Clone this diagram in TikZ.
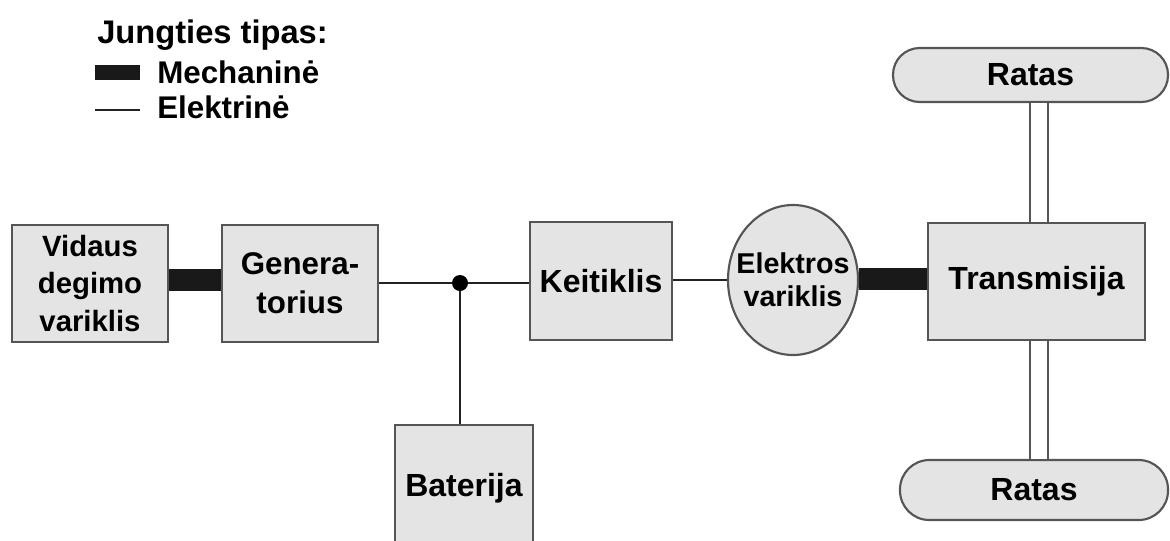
\documentclass[tikz,border=0pt]{standalone}
\usepackage{fontspec}
\setmainfont{Liberation Sans}
\usetikzlibrary{shapes.geometric}
\definecolor{boxfill}{HTML}{E4E4E4}
\definecolor{boxline}{HTML}{555555}
\definecolor{wire}{HTML}{222222}
\tikzset{
  unit/.style={draw=boxline, line width=1.6pt, fill=boxfill, inner sep=0pt,
    align=center, font=\bfseries\fontsize{24}{28}\selectfont},
  wheel/.style={unit, rounded corners=20pt},
  motor/.style={unit, ellipse},
  mech/.style={draw=black!90, line width=16.5pt},
  elec/.style={draw=wire, line width=2pt},
  axle/.style={draw=boxline, line width=1.5pt, double=white, double distance=12pt},
  legtext/.style={anchor=base west, inner sep=0pt, font=\bfseries\fontsize{23.5}{28}\selectfont},
}
\begin{document}
\begin{tikzpicture}[x=0.75pt, y=-0.75pt]
\useasboundingbox (0,0) rectangle (1170,540);

% legend
\node[legtext, font=\bfseries\fontsize{24.5}{28}\selectfont] (legtitle) at (97,43) {Jungties tipas:};
\node[fill=black!90, inner sep=0pt, minimum width=33.75pt, minimum height=11pt] (swmech) at (117.5,72.5) {};
\node[legtext] (legmech) at (157,83) {Mechaninė};
\node[fill=wire, inner sep=0pt, minimum width=33.75pt, minimum height=2pt] (swelec) at (117.5,110) {};
\node[legtext] (legelec) at (157,118) {Elektrinė};

% units of the drive train
\node[unit, font=\bfseries\fontsize{22}{28}\selectfont, minimum width=117pt, minimum height=87.75pt] (vdm) at (90,283.5) {Vidaus\\degimo\\variklis};
\node[unit, font=\bfseries\fontsize{23.5}{29}\selectfont, minimum width=117pt, minimum height=87.75pt] (gen) at (300,283.5) {Genera-\\torius};
\node[unit, minimum width=106.5pt, minimum height=88.5pt] (keit) at (601,281) {Keitiklis};
\node[unit, minimum width=103.5pt, minimum height=95.25pt] (bat) at (464,488.5) {Baterija};
\node[motor, minimum width=97.5pt, minimum height=112.5pt,
  label={[align=center, inner sep=0pt, font=\bfseries\fontsize{21.5}{25}\selectfont]center:Elektros\\variklis}] (elv) at (793,280) {};
\node[unit, minimum width=162.75pt, minimum height=87.75pt] (trans) at (1036.5,281.5) {Transmisija};
\node[wheel, minimum width=206.25pt, minimum height=40.5pt] (rat1) at (1030.5,75) {Ratas};
\node[wheel, rounded corners=22pt, minimum width=201pt, minimum height=45pt] (rat2) at (1034,490) {Ratas};

% junction on the electric bus
\coordinate (bus) at (460,283);
\coordinate (axx) at (1039,0);

% connections
\draw[mech] ([yshift=3pt]vdm.east) -- ([yshift=3pt]gen.west);
\draw[elec] (gen.east |- bus) -- (bus) -- (keit.west |- bus);
\draw[elec] (bus) -- (bus |- bat.north);
\fill[black] (bus) circle (6pt);
\draw[elec] (keit.east |- elv.west) -- (elv.west);
\draw[mech] ([yshift=0.8pt]elv.east) -- ([yshift=0.8pt]elv.east -| trans.west);
\draw[axle] (rat1.south -| axx) -- (trans.north -| axx);
\draw[axle] (trans.south -| axx) -- (rat2.north -| axx);
\end{tikzpicture}
\end{document}
